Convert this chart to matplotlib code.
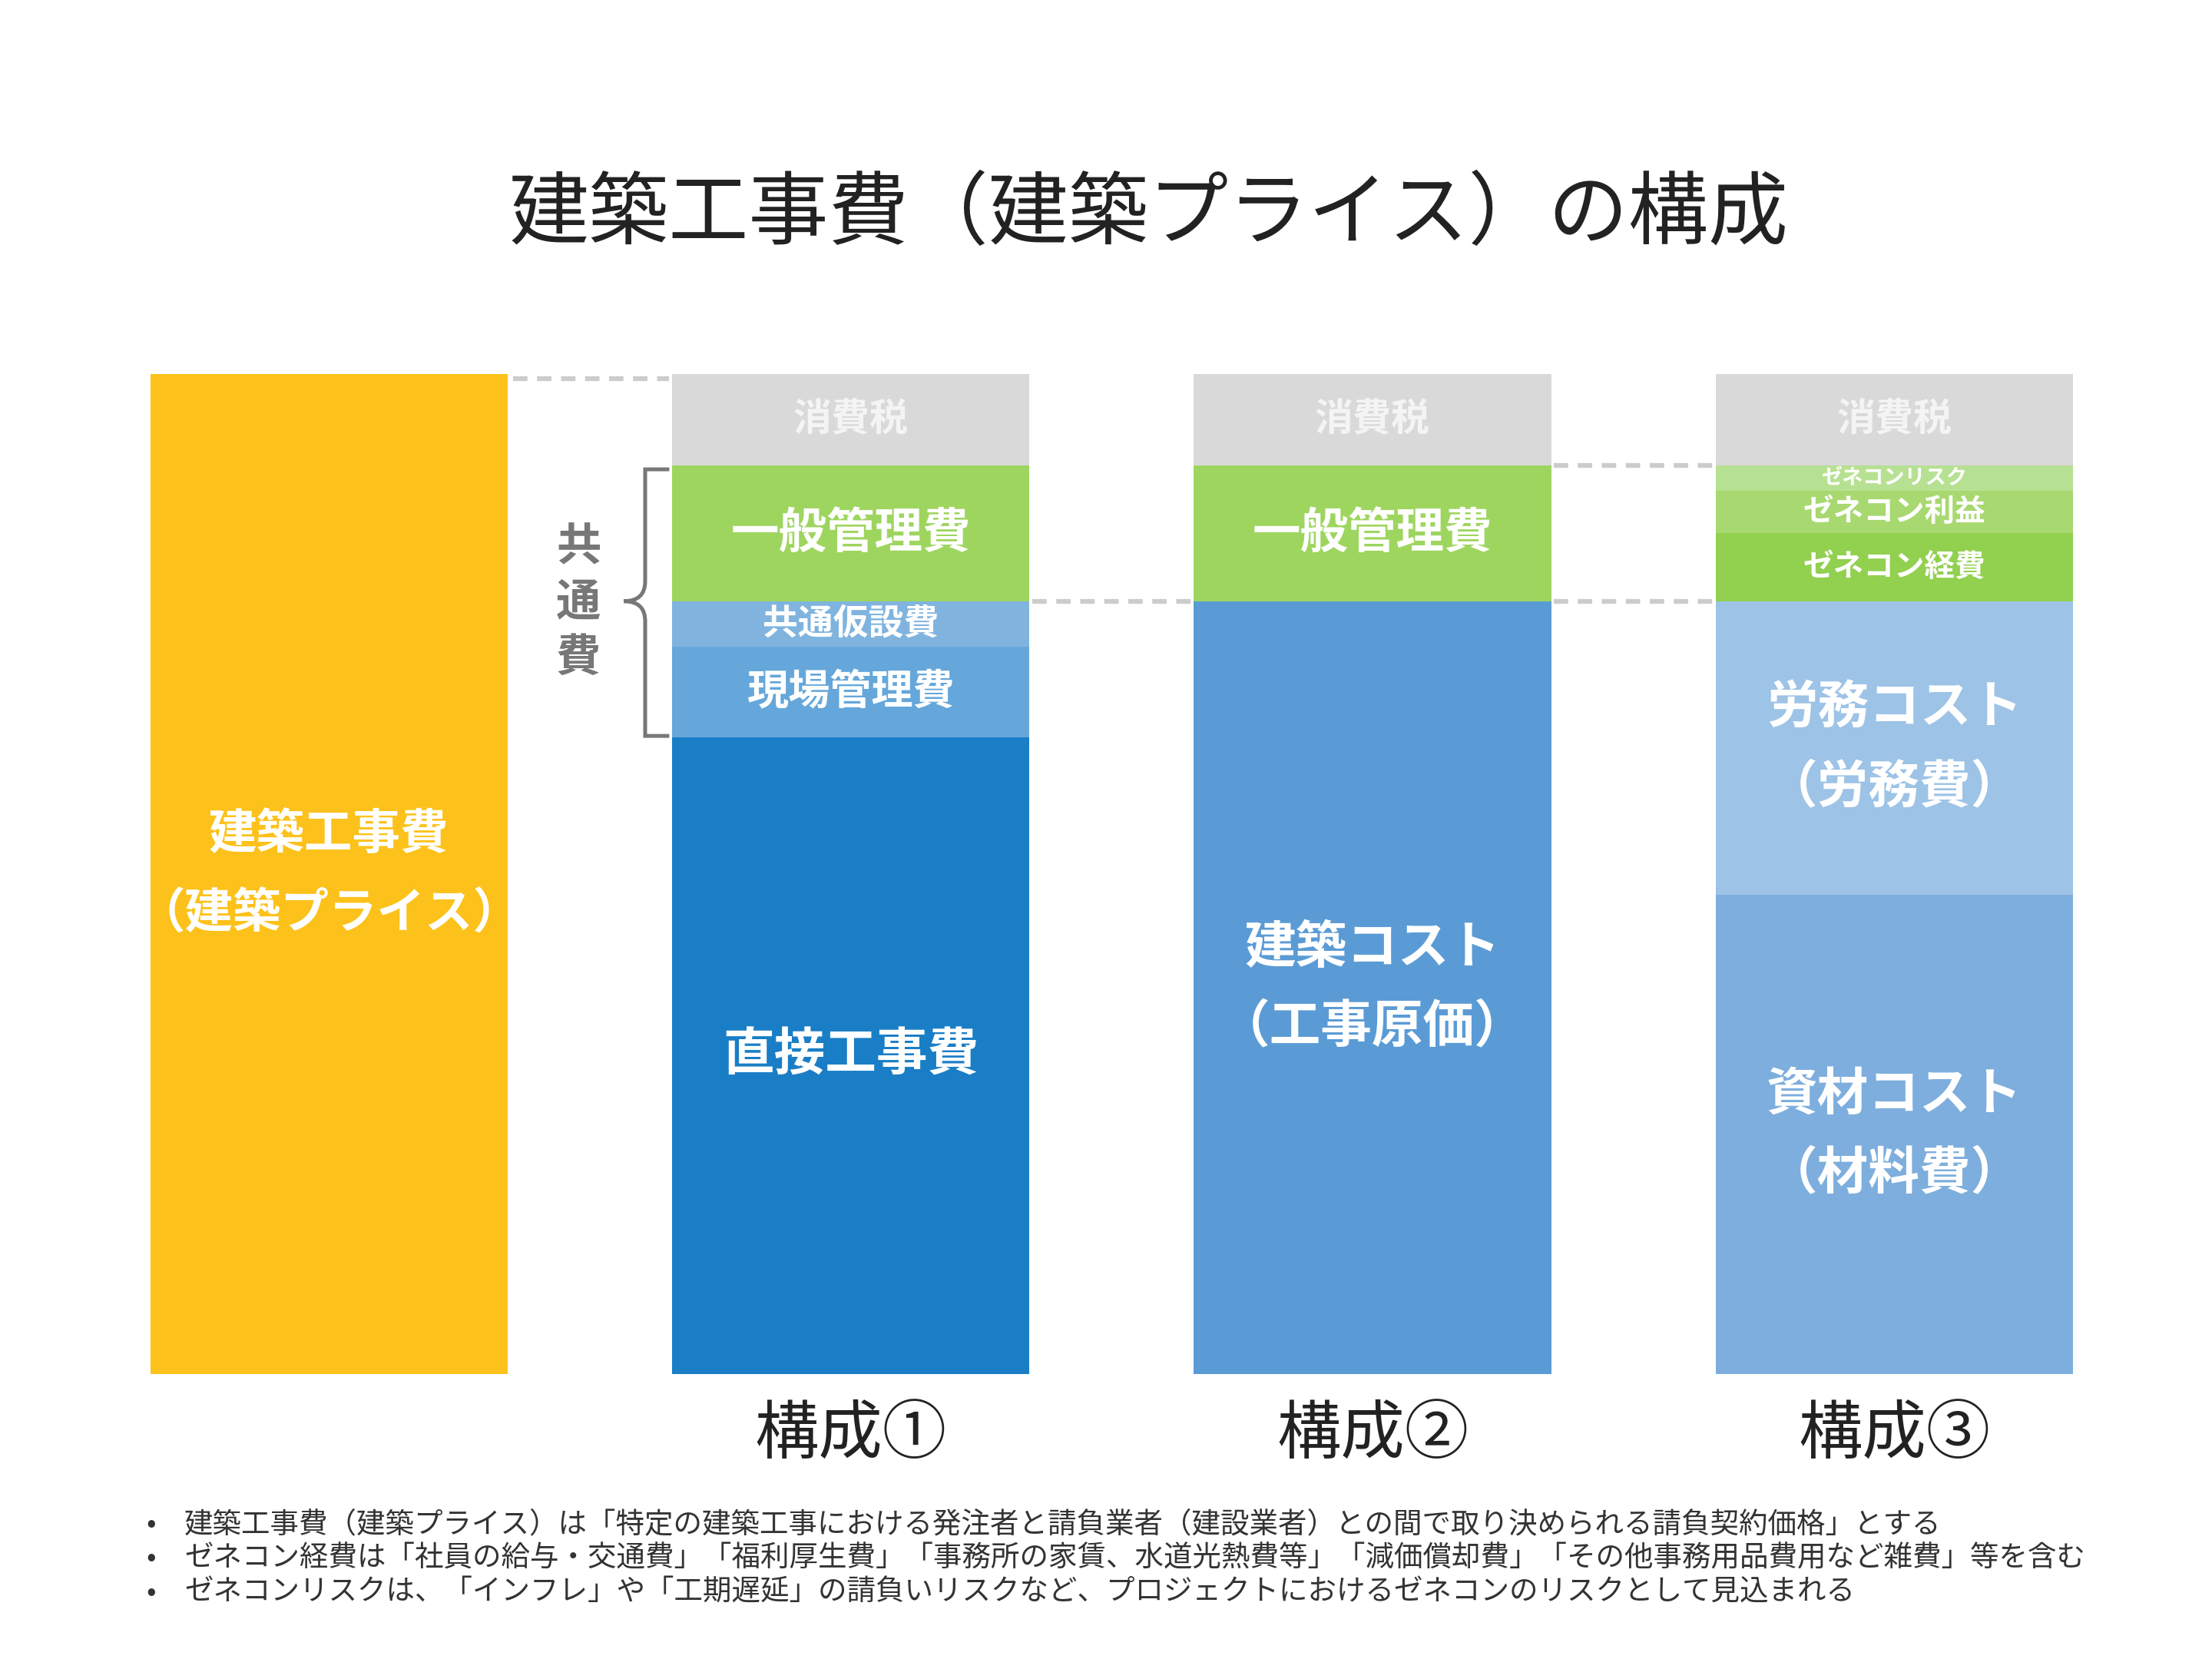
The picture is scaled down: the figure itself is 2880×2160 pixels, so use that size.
import matplotlib
matplotlib.use("Agg")
import matplotlib.pyplot as plt
from matplotlib.path import Path
from matplotlib.patches import PathPatch

plt.rcParams["font.family"] = "Noto Sans CJK JP"

# data (segment heights, top to bottom, in chart units; total 705)
bar_labels = ["", "構成①", "構成②", "構成③"]
seg0 = [("建築工事費\n(建築プライス)", 705, "#FCC21B", 15)]
seg1 = [("消費税", 64, "#D9D9D9", 12), ("一般管理費", 96, "#9ED55F", 15),
        ("共通仮設費", 32, "#80B4DF", 11), ("現場管理費", 64, "#65A7DA", 13),
        ("直接工事費", 449, "#1A7EC6", 16)]
seg2 = [("消費税", 64, "#D9D9D9", 12), ("一般管理費", 96, "#9ED55F", 15),
        ("建築コスト\n(工事原価)", 545, "#5B9BD5", 16)]
seg3 = [("消費税", 64, "#D9D9D9", 12), ("ゼネコンリスク", 18, "#B7E192", 6.5),
        ("ゼネコン利益", 30, "#A8D870", 9.5), ("ゼネコン経費", 48, "#92D050", 9.5),
        ("労務コスト\n(労務費)", 207, "#9DC3E6", 16),
        ("資材コスト\n(材料費)", 338, "#7DAEDD", 16)]
bars = [seg0, seg1, seg2, seg3]
notes = ["建築工事費（建築プライス）は「特定の建築工事における発注者と請負業者（建設業者）との間で取り決められる請負契約価格」とする",
         "ゼネコン経費は「社員の給与・交通費」「福利厚生費」「事務所の家賃、水道光熱費等」「減価償却費」「その他事務用品費用など雑費」等を含む",
         "ゼネコンリスクは、「インフレ」や「工期遅延」の請負いリスクなど、プロジェクトにおけるゼネコンのリスクとして見込まれる"]

fig = plt.figure(figsize=(9.6, 7.2), dpi=300)
ax = fig.add_axes([0, 0, 1, 1])
ax.set_xlim(0, 1560); ax.set_ylim(1170, 0); ax.axis("off")

lefts = [106, 474, 842, 1210]
w = 252; top = 264
for xl, segs, lab in zip(lefts, bars, bar_labels):
    y = top
    for name, h, c, fs in segs:
        ax.bar(xl, h, width=w, bottom=y, align="edge", color=c, linewidth=0)
        tc = "#F4F4F4" if name == "消費税" else "white"
        if "\n" in name:
            a, b = name.split("\n")
            ax.text(xl + w/2, y + h/2 - 28, a, ha="center", va="center", color=tc, fontsize=fs, fontweight="bold")
            ax.text(xl + w/2, y + h/2 + 28, b.replace("(", "（").replace(")", "）"), ha="center", va="center", color=tc, fontsize=fs, fontweight="bold")
        else:
            ax.text(xl + w/2, y + h/2, name, ha="center", va="center", color=tc, fontsize=fs, fontweight="bold")
        y += h
    if lab:
        ax.text(xl + w/2, 1012, lab, ha="center", va="center", fontsize=20, color="#222222")

dash = dict(color="#CCCCCC", lw=1.5, ls=(0, (3, 2)))
ax.plot([362, 472], [267, 267], **dash)
ax.plot([728, 840], [424, 424], **dash)
ax.plot([1096, 1208], [328, 328], **dash)
ax.plot([1096, 1208], [424, 424], **dash)

# brace
verts = [(472, 331), (455, 331), (455, 331), (455, 345), (455, 410), (455, 424), (440, 424),
         (455, 424), (455, 438), (455, 505), (455, 519), (455, 519), (472, 519)]
codes = [Path.MOVETO, Path.CURVE3, Path.CURVE3, Path.LINETO, Path.LINETO, Path.CURVE3, Path.CURVE3,
         Path.CURVE3, Path.CURVE3, Path.LINETO, Path.CURVE3, Path.CURVE3, Path.CURVE3][:13]
codes = [Path.MOVETO, Path.CURVE3, Path.CURVE3, Path.LINETO, Path.LINETO, Path.CURVE3, Path.CURVE3,
         Path.CURVE3, Path.CURVE3, Path.LINETO, Path.LINETO, Path.CURVE3, Path.CURVE3]
ax.add_patch(PathPatch(Path(verts, codes), fill=False, ec="#777777", lw=1.2))
for i, ch in enumerate("共通費"):
    ax.text(408, 386 + i*39, ch, ha="center", va="center", fontsize=14, fontweight="bold", color="#777777")

ax.text(810, 152, "建築工事費（建築プライス）の構成", ha="center", va="center", fontsize=25, color="#222222")
for i, n in enumerate(notes):
    ax.text(103, 1075 + i*24, "•", ha="left", va="center", fontsize=9, color="#333333")
    ax.text(130, 1075 + i*24, n, ha="left", va="center", fontsize=9, color="#333333")

fig.savefig("out.png", dpi=300, facecolor="white")
